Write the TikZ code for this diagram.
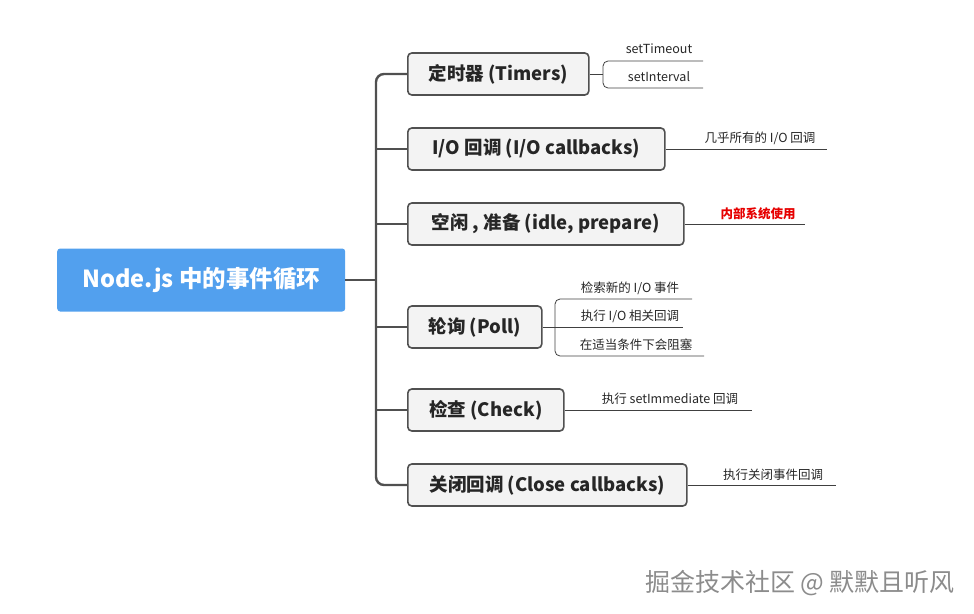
\documentclass[tikz,border=0pt]{standalone}
\usepackage{fontspec}
\setmainfont{Noto Sans CJK SC}
\definecolor{rootblue}{RGB}{82,160,238}
\definecolor{boxgray}{RGB}{243,243,243}
\definecolor{linegray}{RGB}{80,80,80}
\definecolor{notered}{RGB}{230,0,0}

\tikzset{
  root/.style={fill=rootblue, rounded corners=3pt, minimum width=288pt, minimum height=63pt,
    anchor=west, text=white, font=\fontsize{23.5}{28}\selectfont\bfseries},
  phase/.style={draw=linegray, fill=boxgray, line width=1.6pt, rounded corners=4pt,
    minimum height=42pt, inner xsep=18pt, anchor=west, text=black!85,
    font=\fontsize{18.5}{22}\selectfont\bfseries},
  leaf/.style={inner sep=0pt, text=black!85, font=\fontsize{12.5}{15}\selectfont},
  trunk/.style={draw=linegray, line width=2.4pt},
  twig/.style={draw=black!75, line width=0.8pt},
  watermark/.style={font=\fontsize{25}{30}\selectfont},
}

\begin{document}
\begin{tikzpicture}[x=1pt,y=-1pt]
		\useasboundingbox (0,0) rectangle (974,613);
		
		% root of the map
		\node[root] (loop) at (57,280) {Node.js 中的事件循环};
		\coordinate (hub) at (376,280);
		
		% the six phases
		\node[phase, minimum width=181pt] (tim) at (407,74) {定时器 (Timers)};
		\node[phase, minimum width=257pt] (io) at (407,149) {I/O 回调 (I/O callbacks)};
		\node[phase, minimum width=276pt] (idle) at (407,224) {空闲 , 准备 (idle, prepare)};
		\node[phase, minimum width=134pt] (poll) at (407,327) {轮询 (Poll)};
		\node[phase, minimum width=156pt] (check) at (407,410) {检查 (Check)};
		\node[phase, minimum width=279pt] (close) at (407,485) {关闭回调 (Close callbacks)};
		
		% trunk and branches
		\draw[trunk] (loop.east) -- (hub);
		\draw[trunk, rounded corners=8pt] (tim.west) -| (hub) |- (close.west);
		\draw[trunk] (hub |- io.west) -- (io.west);
		\draw[trunk] (hub |- idle.west) -- (idle.west);
		\draw[trunk] (hub |- poll.west) -- (poll.west);
		\draw[trunk] (hub |- check.west) -- (check.west);
		
		% timers
		\node[leaf] (tim-a) at (659,49) {setTimeout};
		\node[leaf] (tim-b) at (659,77) {setInterval};
		\coordinate (tim-fork) at (603,74);
		\coordinate (tim-a-end) at (703,61);
		\coordinate (tim-b-end) at (703,88);
		\draw[twig] (tim.east) -- (tim-fork);
		\draw[twig, rounded corners=5pt] (tim-a-end) -| (tim-fork) |- (tim-b-end);
		
		% i/o callbacks
		\node[leaf] (io-a) at (760,138) {几乎所有的 I/O 回调};
		\coordinate (io-end) at (827,149);
		\draw[twig] (io.east) -- (io-end);
		
		% idle, prepare
		\node[leaf, text=notered, font=\fontsize{12.5}{15}\selectfont\bfseries] (idle-a) at (758,214) {内部系统使用};
		\coordinate (idle-end) at (805,224);
		\draw[twig] (idle.east) -- (idle-end);
		
		% poll
		\node[leaf] (poll-a) at (630,288) {检索新的 I/O 事件};
		\node[leaf] (poll-b) at (630,316) {执行 I/O 相关回调};
		\node[leaf] (poll-c) at (636,345) {在适当条件下会阻塞};
		\coordinate (poll-fork) at (555,327);
		\coordinate (poll-a-end) at (692,299);
		\coordinate (poll-b-end) at (683,327);
		\coordinate (poll-c-end) at (704,356);
		\draw[twig] (poll.east) -- (poll-b-end);
		\draw[twig, rounded corners=5pt] (poll-a-end) -| (poll-fork) |- (poll-c-end);
		
		% check
		\node[leaf] (check-a) at (670,399) {执行 setImmediate 回调};
		\coordinate (check-end) at (752,410);
		\draw[twig] (check.east) -- (check-end);
		
		% close callbacks
		\node[leaf] (close-a) at (773,475) {执行关闭事件回调};
		\coordinate (close-end) at (836,485);
		\draw[twig] (close.east) -- (close-end);
		
		% watermark
		\node[watermark, text=white] at (799,584) {掘金技术社区 @ 默默且听风};
		\node[watermark, text=black!45] (wm) at (800,583) {掘金技术社区 @ 默默且听风};
		
	\end{tikzpicture}
\end{document}
